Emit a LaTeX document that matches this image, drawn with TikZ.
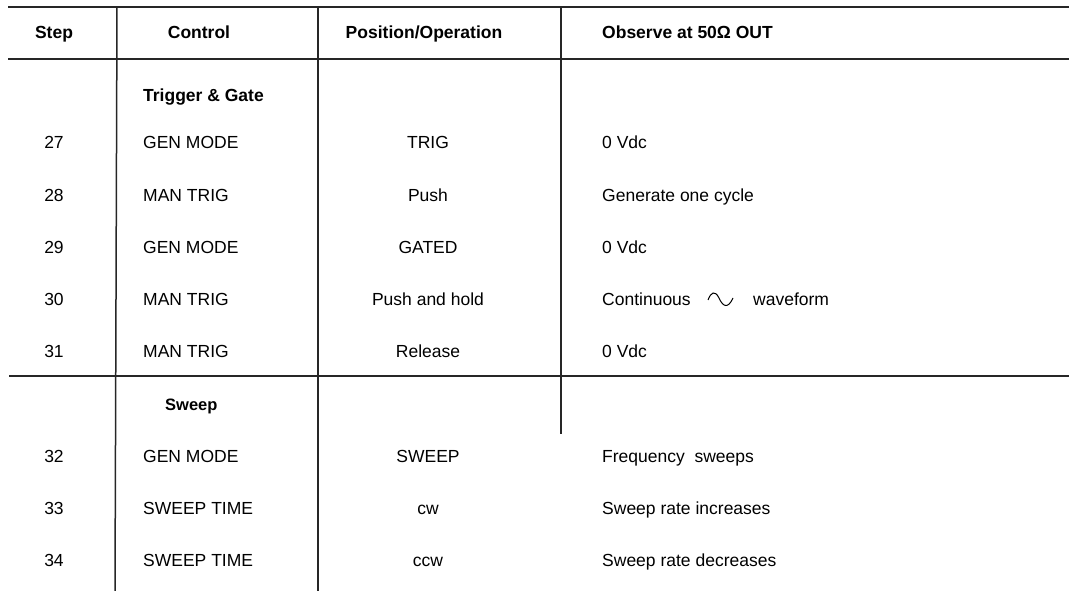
\documentclass[tikz,border=0pt]{standalone}
\usepackage{fontspec}
\setmainfont{Liberation Sans}
\begin{document}
\begin{tikzpicture}[x=1pt,y=-1pt,
  rule/.style={line width=1.5pt,black!85},
  txt/.style={inner sep=0pt,font=\fontsize{17.5}{20}\selectfont},
  hdr/.style={inner sep=0pt,font=\fontsize{17.5}{20}\selectfont\bfseries},
  ctr/.style={anchor=base},
  lft/.style={anchor=base west}]
\useasboundingbox (0,0) rectangle (1069,591);
% rules
\coordinate (tl) at (8,7);
\coordinate (tr) at (1069,7);
\coordinate (hl) at (8,59);
\coordinate (hr) at (1069,59);
\coordinate (ml) at (9,376);
\coordinate (mr) at (1069,376);
\coordinate (v1t) at (117,7);
\coordinate (v1b) at (115,591);
\coordinate (v2t) at (318,7);
\coordinate (v2b) at (318,591);
\coordinate (v3t) at (561,7);
\coordinate (v3b) at (561,434);
\draw[rule] (tl) -- (tr);
\draw[rule] (hl) -- (hr);
\draw[rule] (ml) -- (mr);
\draw[rule] (v1t) -- (v1b);
\draw[rule] (v2t) -- (v2b);
\draw[rule] (v3t) -- (v3b);
% header
\node[hdr,ctr] (hstep) at (54,39) {Step};
\node[hdr,ctr] (hctrl) at (199,39) {Control};
\node[hdr,ctr] (hpos) at (424,39) {Position/Operation};
\node[hdr,lft] (hobs) at (602,39) {Observe at 50\symbol{"03A9} OUT};
% section 1
\node[hdr,lft] (sec1) at (143,102) {Trigger \& Gate};
\node[txt,ctr] (s27) at (54,149) {27};
\node[txt,lft] (c27) at (143,149) {GEN MODE};
\node[txt,ctr] (p27) at (428,149) {TRIG};
\node[txt,lft] (o27) at (602,149) {0 Vdc};
\node[txt,ctr] (s28) at (54,201) {28};
\node[txt,lft] (c28) at (143,201) {MAN TRIG};
\node[txt,ctr] (p28) at (428,201) {Push};
\node[txt,lft] (o28) at (602,201) {Generate one cycle};
\node[txt,ctr] (s29) at (54,253) {29};
\node[txt,lft] (c29) at (143,253) {GEN MODE};
\node[txt,ctr] (p29) at (428,253) {GATED};
\node[txt,lft] (o29) at (602,253) {0 Vdc};
\node[txt,ctr] (s30) at (54,305) {30};
\node[txt,lft] (c30) at (143,305) {MAN TRIG};
\node[txt,ctr] (p30) at (428,305) {Push and hold};
\node[txt,lft] (o30) at (602,305) {Continuous};
\node[txt,lft] (o30b) at (753,305) {waveform};
\draw[line width=1pt] (708,300) .. controls (711,292) and (715,290) .. (719,298)
  .. controls (723,307) and (728,309) .. (733,298);
\node[txt,ctr] (s31) at (54,357) {31};
\node[txt,lft] (c31) at (143,357) {MAN TRIG};
\node[txt,ctr] (p31) at (428,357) {Release};
\node[txt,lft] (o31) at (602,357) {0 Vdc};
% section 2
\node[hdr,lft,font=\fontsize{16.5}{20}\selectfont\bfseries] (sec2) at (165,410) {Sweep};
\node[txt,ctr] (s32) at (54,462) {32};
\node[txt,lft] (c32) at (143,462) {GEN MODE};
\node[txt,ctr] (p32) at (428,462) {SWEEP};
\node[txt,lft] (o32) at (602,462) {Frequency\ \ sweeps};
\node[txt,ctr] (s33) at (54,514) {33};
\node[txt,lft] (c33) at (143,514) {SWEEP TIME};
\node[txt,ctr] (p33) at (428,514) {cw};
\node[txt,lft] (o33) at (602,514) {Sweep rate increases};
\node[txt,ctr] (s34) at (54,566) {34};
\node[txt,lft] (c34) at (143,566) {SWEEP TIME};
\node[txt,ctr] (p34) at (428,566) {ccw};
\node[txt,lft] (o34) at (602,566) {Sweep rate decreases};
\end{tikzpicture}
\end{document}
